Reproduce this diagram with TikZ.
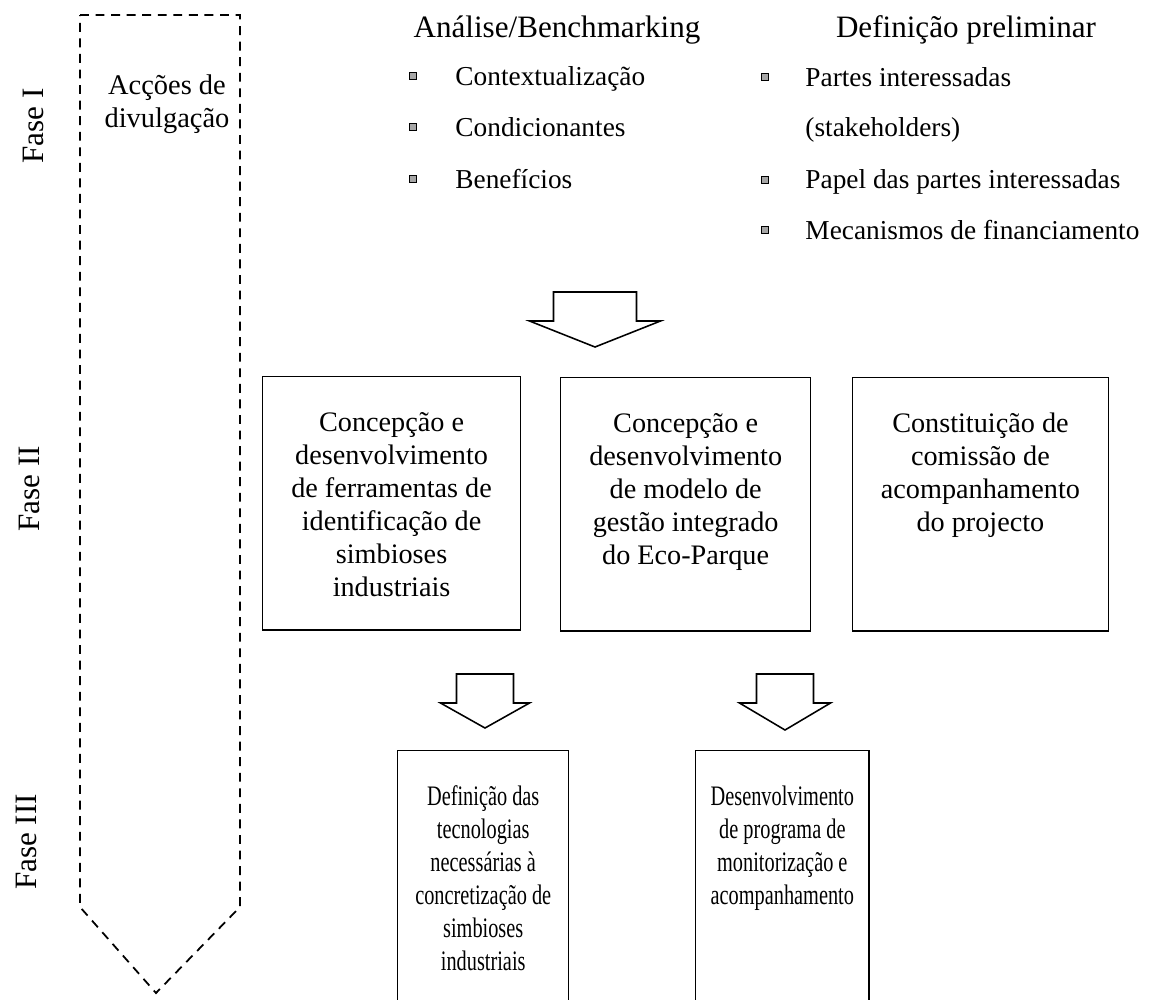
\documentclass[tikz,border=0pt]{standalone}
\usepackage{fontspec}
\setmainfont{Liberation Serif}
\usetikzlibrary{positioning}

% framed step text: width, height, horizontal squeeze, lines
\newcommand{\boxtext}[4]{\parbox[t][#2][t]{#1}{\centering\rule{0pt}{24.5pt}%
  \scalebox{#3}[1]{\begin{tabular}[t]{@{}c@{}}#4\end{tabular}}}}
% hollow block arrow: top centre, half stem, half head, shoulder, tip
\newcommand{\blockarrow}[5]{%
  \draw[blockarr] (#1) +(-#2,0) -- +(#2,0) -- +(#2,#4) -- +(#3,#4)
    -- +(0,#5) -- +(-#3,#4) -- +(-#2,#4) -- cycle;}

\begin{document}
\begin{tikzpicture}[x=0.45pt, y=-0.45pt,
    phase/.style={rotate=90, font=\fontsize{14}{16}\selectfont},
    heading/.style={anchor=base, font=\fontsize{14}{16}\selectfont},
    item/.style={anchor=base west, inner sep=0pt, font=\fontsize{12.3}{15}\selectfont},
    bullet/.style={draw, fill=gray!70, minimum size=2.8pt, inner sep=0pt, line width=0.4pt},
    stepbox/.style={draw, line width=0.6pt, inner sep=0pt, anchor=north west,
      font=\fontsize{12.7}{14.85}\selectfont},
    blockarr/.style={line width=0.7pt, line join=miter},
    outline/.style={dashed, dash pattern=on 4pt off 3pt, line width=0.8pt}]
    \useasboundingbox (0,0) rectangle (1151,999);
    \clip (0,0) rectangle (1151,999);

    % dashed arrow for the outreach actions
    \draw[outline] (80,15) -- (240,15) -- (240,907) -- (156,993) -- (80,907) -- cycle;
    \node[align=center, font=\fontsize{12.8}{14.85}\selectfont] (divulg) at (167,104)
        {Acções de\\divulgação};

    % phases
    \node[phase] (fase1) at (33,126) {Fase I};
    \node[phase] (fase2) at (29,489) {Fase II};
    \node[phase] (fase3) at (26,842) {Fase III};

    % phase I lists
    \node[heading] (anal) at (557,37) {Análise/Benchmarking};
    \node[heading] (defin) at (966,37) {Definição preliminar};

    \node[item] (ctx) at (455,85) {Contextualização};
    \node[item] (cond) at (455,136) {Condicionantes};
    \node[item] (benef) at (455,188) {Benefícios};
    \foreach \y [count=\i] in {76,127,179}
        \node[bullet] (bl\i) at (413,\y) {};

    \node[item] (partes) at (805,86) {Partes interessadas};
    \node[item] (stake) at (805,136) {(stakeholders)};
    \node[item] (papel) at (805,188) {Papel das partes interessadas};
    \node[item] (mecan) at (805,239) {Mecanismos de financiamento};
    \foreach \y [count=\i] in {77,180,230}
        \node[bullet] (br\i) at (765,\y) {};

    \coordinate (arr1) at (595,292);
    \blockarrow{arr1}{41.5}{65.5}{29}{55}

    % phase II
    \node[stepbox] (ferr) at (262,376) {\boxtext{116pt}{114pt}{1}{Concepção e\\
        desenvolvimento\\de ferramentas de\\identificação de\\simbioses\\industriais}};
    \node[stepbox] (gest) at (560,377) {\boxtext{112.5pt}{114pt}{1}{Concepção e\\
        desenvolvimento\\de modelo de\\gestão integrado\\do Eco-Parque}};
    \node[stepbox] (comis) at (852,377) {\boxtext{115pt}{114pt}{1}{Constituição de\\
        comissão de\\acompanhamento\\do projecto}};

    \coordinate (arr2) at (485,674);
    \coordinate (arr3) at (785,674);
    \blockarrow{arr2}{28.5}{44.5}{29}{54}
    \blockarrow{arr3}{28.5}{45.5}{29}{56}

    % phase III
    \node[stepbox] (tecno) at (397,750) {\boxtext{77pt}{120pt}{0.72}{Definição das\\
        tecnologias\\necessárias à\\concretização de\\simbioses\\industriais}};
    \node[stepbox] (monit) at (695,750) {\boxtext{78pt}{120pt}{0.72}{Desenvolvimento\\
        de programa de\\monitorização e\\acompanhamento}};
\end{tikzpicture}
\end{document}
